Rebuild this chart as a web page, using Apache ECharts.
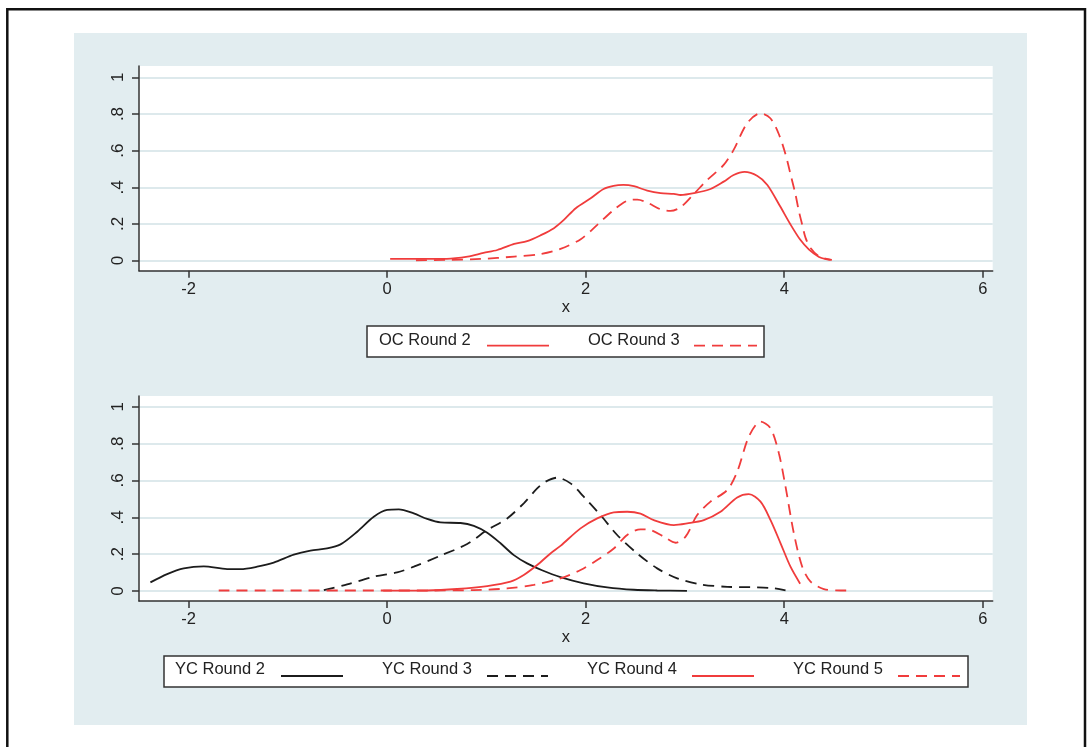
<!DOCTYPE html>
<html>
<head>
<meta charset="utf-8">
<script src="https://cdn.jsdelivr.net/npm/echarts@6/dist/echarts.min.js"></script>
<style>
html,body{margin:0;padding:0;background:#fff;}
#chart{width:1092px;height:747px;}
</style>
</head>
<body>
<div id="chart"></div>
<script>
// ---- tick labels ----
var xTicks = [-2, 0, 2, 4, 6];
var yTicks = [0, 0.2, 0.4, 0.6, 0.8, 1];
var xTitle = 'x';

// ---- legend labels ----
var topNames = ['OC Round 2', 'OC Round 3'];
var bottomNames = ['YC Round 2', 'YC Round 3', 'YC Round 4', 'YC Round 5'];

// ---- top panel series ----
var oc2X = [0.03, 0.6, 0.81, 0.97, 1.11, 1.28, 1.41, 1.545, 1.68, 1.78, 1.9, 2.05, 2.18, 2.28, 2.38, 2.485, 2.62, 2.754, 2.888, 2.955, 3.09, 3.257, 3.39, 3.49, 3.6, 3.73, 3.83, 3.96, 4.06, 4.16, 4.25, 4.35, 4.42, 4.48];
var oc2Y = [0.009, 0.01, 0.022, 0.042, 0.058, 0.091, 0.106, 0.138, 0.177, 0.222, 0.286, 0.34, 0.391, 0.408, 0.413, 0.406, 0.382, 0.368, 0.364, 0.358, 0.368, 0.391, 0.431, 0.467, 0.484, 0.462, 0.413, 0.295, 0.2, 0.115, 0.06, 0.02, 0.008, 0.004];

var oc3X = [0.29, 0.6, 0.94, 1.28, 1.545, 1.746, 1.95, 2.116, 2.283, 2.418, 2.52, 2.62, 2.754, 2.854, 2.955, 3.09, 3.224, 3.39, 3.49, 3.627, 3.76, 3.86, 3.945, 4.012, 4.063, 4.113, 4.147, 4.18, 4.215, 4.265, 4.35, 4.467];
var oc3Y = [0.002, 0.004, 0.009, 0.022, 0.036, 0.064, 0.117, 0.195, 0.277, 0.327, 0.333, 0.317, 0.28, 0.271, 0.291, 0.364, 0.44, 0.522, 0.604, 0.75, 0.804, 0.777, 0.691, 0.582, 0.472, 0.362, 0.271, 0.198, 0.124, 0.069, 0.023, 0.004];

// ---- bottom panel series ----
var yc2X = [-2.385, -2.217, -2.049, -1.848, -1.612, -1.478, -1.31, -1.143, -0.941, -0.773, -0.605, -0.47, -0.302, -0.135, 0, 0.117, 0.268, 0.403, 0.537, 0.739, 0.873, 1.008, 1.142, 1.276, 1.41, 1.56, 1.746, 1.98, 2.217, 2.485, 2.72, 3.02];
var yc2Y = [0.047, 0.092, 0.123, 0.134, 0.119, 0.119, 0.132, 0.154, 0.197, 0.219, 0.231, 0.253, 0.322, 0.403, 0.44, 0.443, 0.421, 0.391, 0.372, 0.369, 0.353, 0.316, 0.259, 0.195, 0.15, 0.113, 0.076, 0.042, 0.02, 0.007, 0.003, 0.001];

var yc3X = [-0.638, -0.403, -0.135, 0.1, 0.268, 0.537, 0.806, 1.008, 1.209, 1.376, 1.511, 1.595, 1.713, 1.847, 1.98, 2.149, 2.317, 2.519, 2.72, 2.922, 3.157, 3.426, 3.728, 3.895, 4.013];
var yc3Y = [0.005, 0.036, 0.078, 0.101, 0.132, 0.192, 0.255, 0.331, 0.394, 0.476, 0.557, 0.593, 0.615, 0.584, 0.512, 0.412, 0.304, 0.204, 0.123, 0.069, 0.036, 0.023, 0.02, 0.015, 0.003];

var yc4X = [-0.04, 0.403, 0.705, 1.008, 1.242, 1.376, 1.511, 1.645, 1.746, 1.948, 2.116, 2.283, 2.418, 2.552, 2.686, 2.888, 3.022, 3.19, 3.358, 3.526, 3.643, 3.761, 3.862, 3.963, 4.063, 4.16];
var yc4Y = [0.002, 0.003, 0.011, 0.027, 0.051, 0.087, 0.141, 0.204, 0.245, 0.34, 0.394, 0.427, 0.43, 0.42, 0.385, 0.358, 0.367, 0.385, 0.43, 0.508, 0.526, 0.485, 0.385, 0.259, 0.132, 0.04];

var yc5X = [-1.697, 0.4, 0.873, 1.209, 1.477, 1.746, 1.948, 2.116, 2.283, 2.418, 2.552, 2.653, 2.787, 2.905, 3.006, 3.123, 3.257, 3.426, 3.526, 3.643, 3.761, 3.862, 3.946, 4.013, 4.097, 4.181, 4.265, 4.399, 4.567, 4.65];
var yc5Y = [0.003, 0.003, 0.005, 0.014, 0.033, 0.069, 0.114, 0.168, 0.231, 0.304, 0.335, 0.331, 0.295, 0.262, 0.295, 0.412, 0.485, 0.548, 0.647, 0.837, 0.919, 0.883, 0.747, 0.566, 0.313, 0.132, 0.051, 0.011, 0.003, 0.003];

function zip(xs, ys) { return xs.map(function (x, i) { return [x, ys[i]]; }); }

var RED = '#f03c3c', BLACK = '#1c1c1c';
var FONT = 'Liberation Sans';
var DASH = [11, 7];

function xAxis(idx) {
  return {
    gridIndex: idx, type: 'value', min: -2.5, max: 6.1,
    name: xTitle, nameLocation: 'middle', nameGap: 28,
    nameTextStyle: { fontFamily: FONT, fontSize: 16.5, color: '#222' },
    axisLine: { show: true, onZero: false, lineStyle: { color: '#333', width: 1.5 } },
    axisTick: { show: true, length: 7, customValues: xTicks, lineStyle: { color: '#333', width: 1.5 } },
    axisLabel: { customValues: xTicks, margin: 10, fontFamily: FONT, fontSize: 16.5, color: '#222' },
    splitLine: { show: false }
  };
}
function yAxis(idx, mn, mx) {
  return {
    gridIndex: idx, type: 'value', min: mn, max: mx,
    axisLine: { show: true, onZero: false, lineStyle: { color: '#333', width: 1.5 } },
    axisTick: { show: true, length: 7, customValues: yTicks, lineStyle: { color: '#333', width: 1.5 } },
    axisLabel: {
      customValues: yTicks, rotate: 90, margin: 12, fontFamily: FONT, fontSize: 17, color: '#222',
      formatter: function (v) {
        if (Math.abs(v) < 1e-9) return '0';
        if (Math.abs(v - 1) < 1e-9) return '1';
        return '.' + Math.round(v * 10);
      }
    },
    splitLine: { show: true, lineStyle: { color: '#dde9ec', width: 2 } }
  };
}
function line(name, data, gi, color, dashed) {
  return {
    name: name, type: 'line', xAxisIndex: gi, yAxisIndex: gi, data: data,
    showSymbol: false, smooth: 0.3, silent: true, animation: false,
    lineStyle: { color: color, width: 1.8, type: dashed ? DASH : 'solid' }
  };
}

function legendGraphics(box, texts, lines, textY, lineY, colors, dashes) {
  var g = [{
    type: 'rect', shape: box, z: 10,
    style: { fill: '#fff', stroke: '#333', lineWidth: 1.5 }
  }];
  texts.forEach(function (t, i) {
    g.push({ type: 'text', x: t.x, y: textY, z: 11,
      style: { text: t.s, font: '16.5px "' + FONT + '"', fill: '#222', textVerticalAlign: 'middle', verticalAlign: 'middle' } });
    g.push({ type: 'line', z: 11, shape: { x1: lines[i][0], y1: lineY, x2: lines[i][1], y2: lineY },
      style: { stroke: colors[i], lineWidth: 1.8, lineDash: dashes[i] ? DASH : null } });
  });
  return g;
}

var graphics = [
  { type: 'rect', shape: { x: 74, y: 33, width: 953, height: 692 }, z: -10, style: { fill: '#e2edf0' } },
  { type: 'rect', shape: { x: 7.3, y: 9.2, width: 1077.7, height: 760 }, z: -9, style: { fill: null, stroke: '#111', lineWidth: 2.5 } }
];
graphics = graphics.concat(legendGraphics(
  { x: 367, y: 326, width: 397, height: 31 },
  [{ x: 379, s: topNames[0] }, { x: 588, s: topNames[1] }],
  [[487, 549], [694, 757]], 340, 345.7, [RED, RED], [false, true]));
graphics = graphics.concat(legendGraphics(
  { x: 164, y: 656, width: 804, height: 31 },
  [{ x: 175, s: bottomNames[0] }, { x: 382, s: bottomNames[1] }, { x: 587, s: bottomNames[2] }, { x: 793, s: bottomNames[3] }],
  [[281, 343], [487, 548], [692, 754], [898, 960]], 669, 676, [BLACK, BLACK, RED, RED], [false, true, false, true]));

var chart = echarts.init(document.getElementById('chart'), null, { renderer: 'canvas' });
chart.setOption({
  animation: false,
  backgroundColor: '#fff',
  grid: [
    { left: 139, top: 66, width: 853.7, height: 204.7, show: true, backgroundColor: '#fff', borderWidth: 0 },
    { left: 139, top: 396, width: 853.7, height: 205, show: true, backgroundColor: '#fff', borderWidth: 0 }
  ],
  xAxis: [xAxis(0), xAxis(1)],
  yAxis: [yAxis(0, -0.055, 1.062), yAxis(1, -0.054, 1.058)],
  graphic: graphics,
  series: [
    line(topNames[0], zip(oc2X, oc2Y), 0, RED, false),
    line(topNames[1], zip(oc3X, oc3Y), 0, RED, true),
    line(bottomNames[0], zip(yc2X, yc2Y), 1, BLACK, false),
    line(bottomNames[1], zip(yc3X, yc3Y), 1, BLACK, true),
    line(bottomNames[2], zip(yc4X, yc4Y), 1, RED, false),
    line(bottomNames[3], zip(yc5X, yc5Y), 1, RED, true)
  ]
});
</script>
</body>
</html>
